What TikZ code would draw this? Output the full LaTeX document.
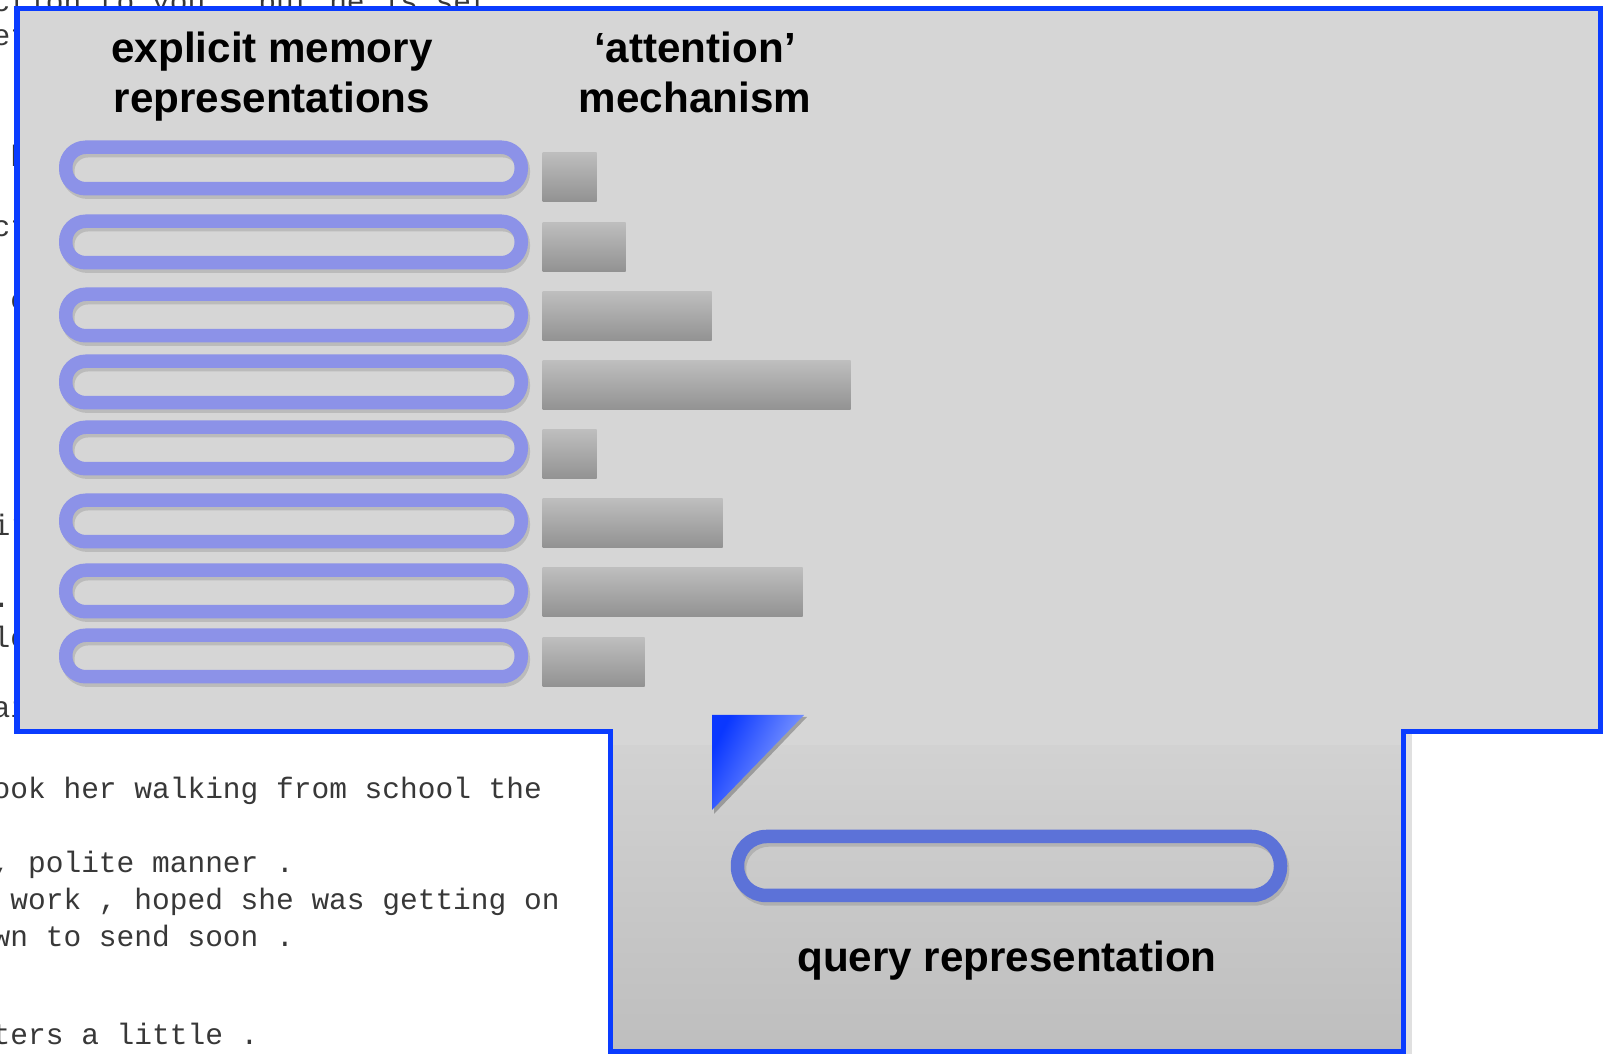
\documentclass[tikz,border=0pt]{standalone}
\usepackage{fontspec}
\setsansfont{Liberation Sans}
\setmonofont{Liberation Mono}
\usepackage{xcolor}
\usepackage{tikz}
\usetikzlibrary{positioning}
\definecolor{panelgray}{HTML}{D6D6D6}
\definecolor{lowtop}{HTML}{D2D2D2}
\definecolor{lowbot}{HTML}{BEBEBE}
\definecolor{frameblue}{HTML}{0A3CFF}
\definecolor{pillblue}{HTML}{8C92E8}
\definecolor{qblue}{HTML}{5C72D8}
\definecolor{barlight}{HTML}{BEBEBE}
\definecolor{bardark}{HTML}{929292}
\definecolor{tridark}{HTML}{0A37FF}
\definecolor{trilight}{HTML}{9DB2FF}
\tikzset{
    mempill/.style = {draw=pillblue, line width=0.135cm, rounded corners=0.2cm, minimum width=4.555cm, minimum height=0.415cm, inner sep=0pt, preaction={draw=black, draw opacity=0.12, transform canvas={xshift=0.02cm, yshift=-0.035cm}}},
    qpill/.style = {draw=qblue, line width=0.135cm, rounded corners=0.29cm, minimum width=5.43cm, minimum height=0.59cm, inner sep=0pt, preaction={draw=black, draw opacity=0.12, transform canvas={xshift=0.02cm, yshift=-0.035cm}}},
    attbar/.style = {anchor=west, inner sep=0pt, minimum height=0.49cm, top color=barlight, bottom color=bardark},
    headtxt/.style = {font=\sffamily\bfseries\fontsize{12}{14.5}\selectfont, align=center, anchor=base, inner sep=0pt},
    pagetxt/.style = {font=\ttfamily\fontsize{8.4}{10}\selectfont, anchor=base west, inner sep=0pt, text=black!78},
}
\begin{document}
\begin{tikzpicture}
\path[use as bounding box, fill=white] (0,0) rectangle (16.10,10.54);
\clip (0,0) rectangle (16.10,10.54);
% the page of text behind
\node[pagetxt] at (-0.08,10.42) (t1) {ction to you . but he is set};
\node[pagetxt] at (-0.08,10.08) (t2) {et};
\node[pagetxt] at (0.097,8.87) (t3) {h};
\node[pagetxt] at (-0.08,8.17) (t4) {ct};
\node[pagetxt] at (0.097,7.44) (t5) {c};
\node[pagetxt] at (-0.08,5.18) (t6) {ir};
\node[pagetxt] at (-0.08,4.46) (t7) {.};
\node[pagetxt] at (-0.08,4.06) (t8) {lo};
\node[pagetxt] at (-0.08,3.36) (t9) {ai};
\node[pagetxt] at (-0.08,2.55) (t10) {ook her walking from school the};
\node[pagetxt] at (-0.08,1.81) (t11) {, polite manner .};
\node[pagetxt] at (0.097,1.44) (t12) {work , hoped she was getting on};
\node[pagetxt] at (-0.08,1.07) (t13) {wn to send soon .};
\node[pagetxt] at (-0.08,0.09) (t14) {ters a little .};
%
% panels
\fill[black, opacity=0.12] (14.05,3.20) rectangle (14.12,0);
\fill[panelgray] (0.17,10.45) -- (16.00,10.45) -- (16.00,3.22) -- (14.03,3.22) -- (14.03,0.02) -- (6.10,0.02) -- (6.10,3.22) -- (0.17,3.22) -- cycle;
\shade[top color=lowtop, bottom color=lowbot] (6.10,3.08) rectangle (14.03,0.02);
\draw[frameblue, line width=0.05cm] (0.17,10.45) -- (16.00,10.45) -- (16.00,3.22) -- (14.03,3.22) -- (14.03,0.02) -- (6.10,0.02) -- (6.10,3.22) -- (0.17,3.22) -- cycle;
%
\node[headtxt] at (2.72,9.41) (memhead) {explicit memory\\representations};
\node[headtxt] at (6.95,9.41) (atthead) {‘attention’\\mechanism};
%
\node[mempill] at (2.935,8.86) (m1) {};
\node[mempill] at (2.935,8.12) (m2) {};
\node[mempill] at (2.935,7.39) (m3) {};
\node[mempill] at (2.935,6.72) (m4) {};
\node[mempill] at (2.935,6.06) (m5) {};
\node[mempill] at (2.935,5.33) (m6) {};
\node[mempill] at (2.935,4.63) (m7) {};
\node[mempill] at (2.935,3.98) (m8) {};
%
\node[attbar, minimum width=0.54cm] at (5.42,8.77) (a1) {};
\node[attbar, minimum width=0.83cm] at (5.42,8.07) (a2) {};
\node[attbar, minimum width=1.69cm] at (5.42,7.375) (a3) {};
\node[attbar, minimum width=3.08cm] at (5.42,6.685) (a4) {};
\node[attbar, minimum width=0.54cm] at (5.42,5.995) (a5) {};
\node[attbar, minimum width=1.80cm] at (5.42,5.31) (a6) {};
\node[attbar, minimum width=2.60cm] at (5.42,4.62) (a7) {};
\node[attbar, minimum width=1.02cm] at (5.42,3.92) (a8) {};
%
\fill[black, opacity=0.25] (7.14,3.37) -- (8.07,3.37) -- (7.14,2.40) -- cycle;
\shade[left color=tridark, right color=trilight, shading angle=63] (7.12,3.39) -- (8.04,3.39) -- (7.12,2.44) -- cycle;
%
\node[qpill] at (10.09,1.88) (q) {};
\node[headtxt] at (10.07,0.82) (qlabel) {query representation};
\end{tikzpicture}
\end{document}
